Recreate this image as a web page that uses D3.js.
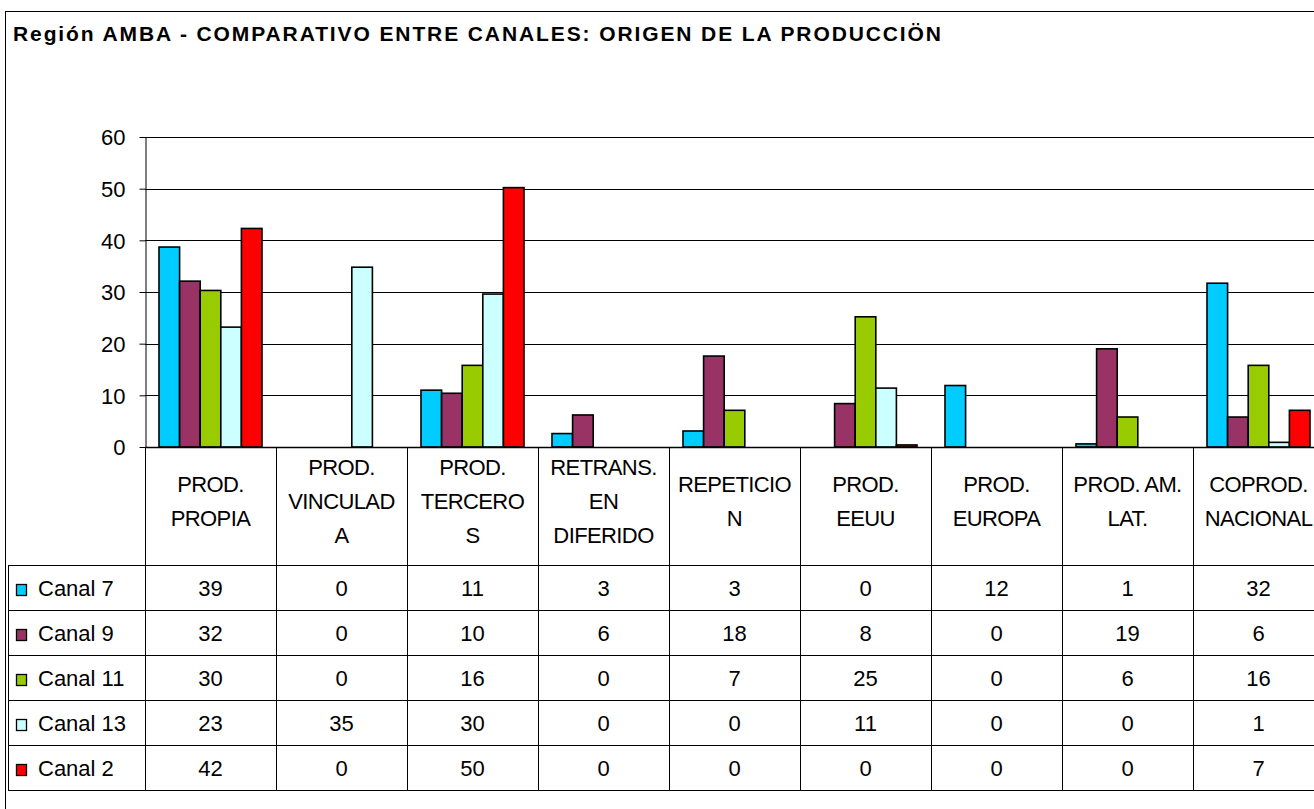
<!DOCTYPE html>
<html>
<head>
<meta charset="utf-8">
<script src="https://cdnjs.cloudflare.com/ajax/libs/d3/7.8.5/d3.min.js"></script>
<style>
  body { margin: 0; background: #fff; overflow: hidden; }
  text { font-family: "Liberation Sans", Arial, sans-serif; fill: #000; }
</style>
</head>
<body>
<div id="container"></div>
<script>
'use strict'

// category labels, split into lines as they are wrapped in the table header
const categories = [
  ["PROD.", "PROPIA"],
  ["PROD.", "VINCULAD", "A"],
  ["PROD.", "TERCERO", "S"],
  ["RETRANS.", "EN", "DIFERIDO"],
  ["REPETICIO", "N"],
  ["PROD.", "EEUU"],
  ["PROD.", "EUROPA"],
  ["PROD. AM.", "LAT."],
  ["COPROD.", "NACIONAL"]
];
const seriesNames = ["Canal 7", "Canal 9", "Canal 11", "Canal 13", "Canal 2"];
const seriesColors = ["#00CCFF", "#993366", "#99CC00", "#CCFFFF", "#FF0000"];

// bar heights (the table shows them rounded)
const canal7  = [38.7, 0, 11.0, 2.6, 3.1, 0, 11.9, 0.6, 31.7];
const canal9  = [32.1, 0, 10.4, 6.2, 17.6, 8.4, 0, 19.0, 5.8];
const canal11 = [30.3, 0, 15.8, 0, 7.1, 25.2, 0, 5.8, 15.8];
const canal13 = [23.2, 34.8, 29.6, 0, 0, 11.4, 0, 0, 0.9];
const canal2  = [42.3, 0, 50.2, 0, 0, 0.4, 0, 0, 7.1];
const yTicks = [0, 10, 20, 30, 40, 50, 60];

const seriesValues = [canal7, canal9, canal11, canal13, canal2];

const w = 1314;
const h = 809;
const plotLeft = 145;
const plotRight = 1324;   // the chart runs past the right edge of the window
const plotTop = 137;
const plotBottom = 447;
const headerBottom = 565;
const rowH = 45;
const tableLeft = 8;
const fontSize = "22px";

const svg = d3.select("#container")
  .append("svg")
  .attr("width", w)
  .attr("height", h);

// outer chart border
svg.append("rect")
  .attr("x", 5.5).attr("y", 11.5)
  .attr("width", 1400).attr("height", 900)
  .attr("fill", "#fff").attr("stroke", "#000").attr("stroke-width", 1);

// title
svg.append("text")
  .attr("x", 13).attr("y", 41)
  .attr("textLength", 928).attr("lengthAdjust", "spacing")
  .style("font-size", "21px").style("font-weight", "bold")
  .text("Región AMBA - COMPARATIVO ENTRE CANALES: ORIGEN DE LA PRODUCCIÖN");

// scales
const x = d3.scaleBand()
  .domain(d3.range(categories.length))
  .range([plotLeft, plotRight]);

const xInner = d3.scaleBand()
  .domain(d3.range(seriesNames.length))
  .range([14, x.bandwidth() - 14]);

const y = d3.scaleLinear()
  .domain([0, 60])
  .range([plotBottom, plotTop]);

// gridlines
svg.append("g")
  .selectAll("line")
  .data(yTicks.filter(d => d > 0))
  .enter()
  .append("line")
  .attr("x1", plotLeft).attr("x2", plotRight)
  .attr("y1", d => Math.round(y(d)) + 0.5)
  .attr("y2", d => Math.round(y(d)) + 0.5)
  .attr("stroke", "#000").attr("stroke-width", 1);

// bars
const groups = svg.append("g")
  .selectAll("g")
  .data(seriesValues)
  .enter()
  .append("g")
  .attr("fill", (d, i) => seriesColors[i]);

groups.selectAll("rect")
  .data((d, si) => d.map((v, ci) => ({ v: v, ci: ci, si: si })).filter(o => o.v > 0))
  .enter()
  .append("rect")
  .attr("x", d => x(d.ci) + xInner(d.si))
  .attr("y", d => y(d.v))
  .attr("width", xInner.bandwidth())
  .attr("height", d => y(0) - y(d.v))
  .attr("stroke", "#000")
  .attr("stroke-width", 1.6);

// y axis
const yAxis = d3.axisLeft(y).tickValues(yTicks).tickSize(6).tickSizeOuter(0).tickPadding(14);
const ya = svg.append("g")
  .attr("transform", "translate(" + (plotLeft + 0.5) + ",0)")
  .call(yAxis);
ya.selectAll("text")
  .style("font-size", fontSize)
  .style("font-family", "'Liberation Sans', Arial, sans-serif")
  .attr("dy", "0.36em");
ya.selectAll("line").attr("stroke", "#000");
ya.select(".domain").attr("stroke", "#000");

// ---- data table ----
const table = svg.append("g");

// horizontal lines
table.append("line")
  .attr("x1", plotLeft).attr("x2", plotRight)
  .attr("y1", plotBottom + 0.5).attr("y2", plotBottom + 0.5)
  .attr("stroke", "#000").attr("stroke-width", 1.5);

table.selectAll(".hrow")
  .data(d3.range(seriesNames.length + 1))
  .enter()
  .append("line")
  .attr("x1", tableLeft).attr("x2", plotRight)
  .attr("y1", i => headerBottom + i * rowH + 0.5)
  .attr("y2", i => headerBottom + i * rowH + 0.5)
  .attr("stroke", "#000").attr("stroke-width", 1);

// vertical lines
table.append("line")
  .attr("x1", tableLeft + 0.5).attr("x2", tableLeft + 0.5)
  .attr("y1", headerBottom).attr("y2", headerBottom + seriesNames.length * rowH)
  .attr("stroke", "#000");

table.selectAll(".vcol")
  .data(d3.range(1, categories.length + 1))
  .enter()
  .append("line")
  .attr("x1", i => Math.round(x(i - 1) + x.bandwidth()) + 0.5)
  .attr("x2", i => Math.round(x(i - 1) + x.bandwidth()) + 0.5)
  .attr("y1", plotBottom).attr("y2", headerBottom + seriesNames.length * rowH)
  .attr("stroke", "#000");

table.append("line")
  .attr("x1", plotLeft + 0.5).attr("x2", plotLeft + 0.5)
  .attr("y1", plotBottom).attr("y2", headerBottom + seriesNames.length * rowH)
  .attr("stroke", "#000");

// header labels
const lineH = 34;
table.selectAll(".cat")
  .data(categories)
  .enter()
  .append("text")
  .attr("text-anchor", "middle")
  .style("font-size", fontSize)
  .style("letter-spacing", "-0.6px")
  .each(function (lines, i) {
    const t = d3.select(this);
    const startY = 509 - (lines.length - 1) * lineH / 2;
    lines.forEach((ln, k) => {
      t.append("tspan")
        .attr("x", x(i) + x.bandwidth() / 2)
        .attr("y", startY + k * lineH)
        .text(ln);
    });
  });

// legend column
const legend = table.selectAll(".leg")
  .data(seriesNames)
  .enter()
  .append("g")
  .attr("transform", (d, i) => "translate(0," + (headerBottom + i * rowH) + ")");

legend.append("rect")
  .attr("x", 16.5).attr("y", 19.5)
  .attr("width", 10).attr("height", 11)
  .attr("fill", (d, i) => seriesColors[i])
  .attr("stroke", "#000").attr("stroke-width", 1.3);

legend.append("text")
  .attr("x", 38).attr("y", 31)
  .style("font-size", fontSize)
  .text(d => d);

// values (rounded as printed in the table)
seriesValues.forEach((vals, si) => {
  table.append("g")
    .selectAll("text")
    .data(vals)
    .enter()
    .append("text")
    .attr("x", (d, ci) => x(ci) + x.bandwidth() / 2)
    .attr("y", headerBottom + si * rowH + 31)
    .attr("text-anchor", "middle")
    .style("font-size", fontSize)
    .text(d => Math.round(d));
});
</script>
</body>
</html>
